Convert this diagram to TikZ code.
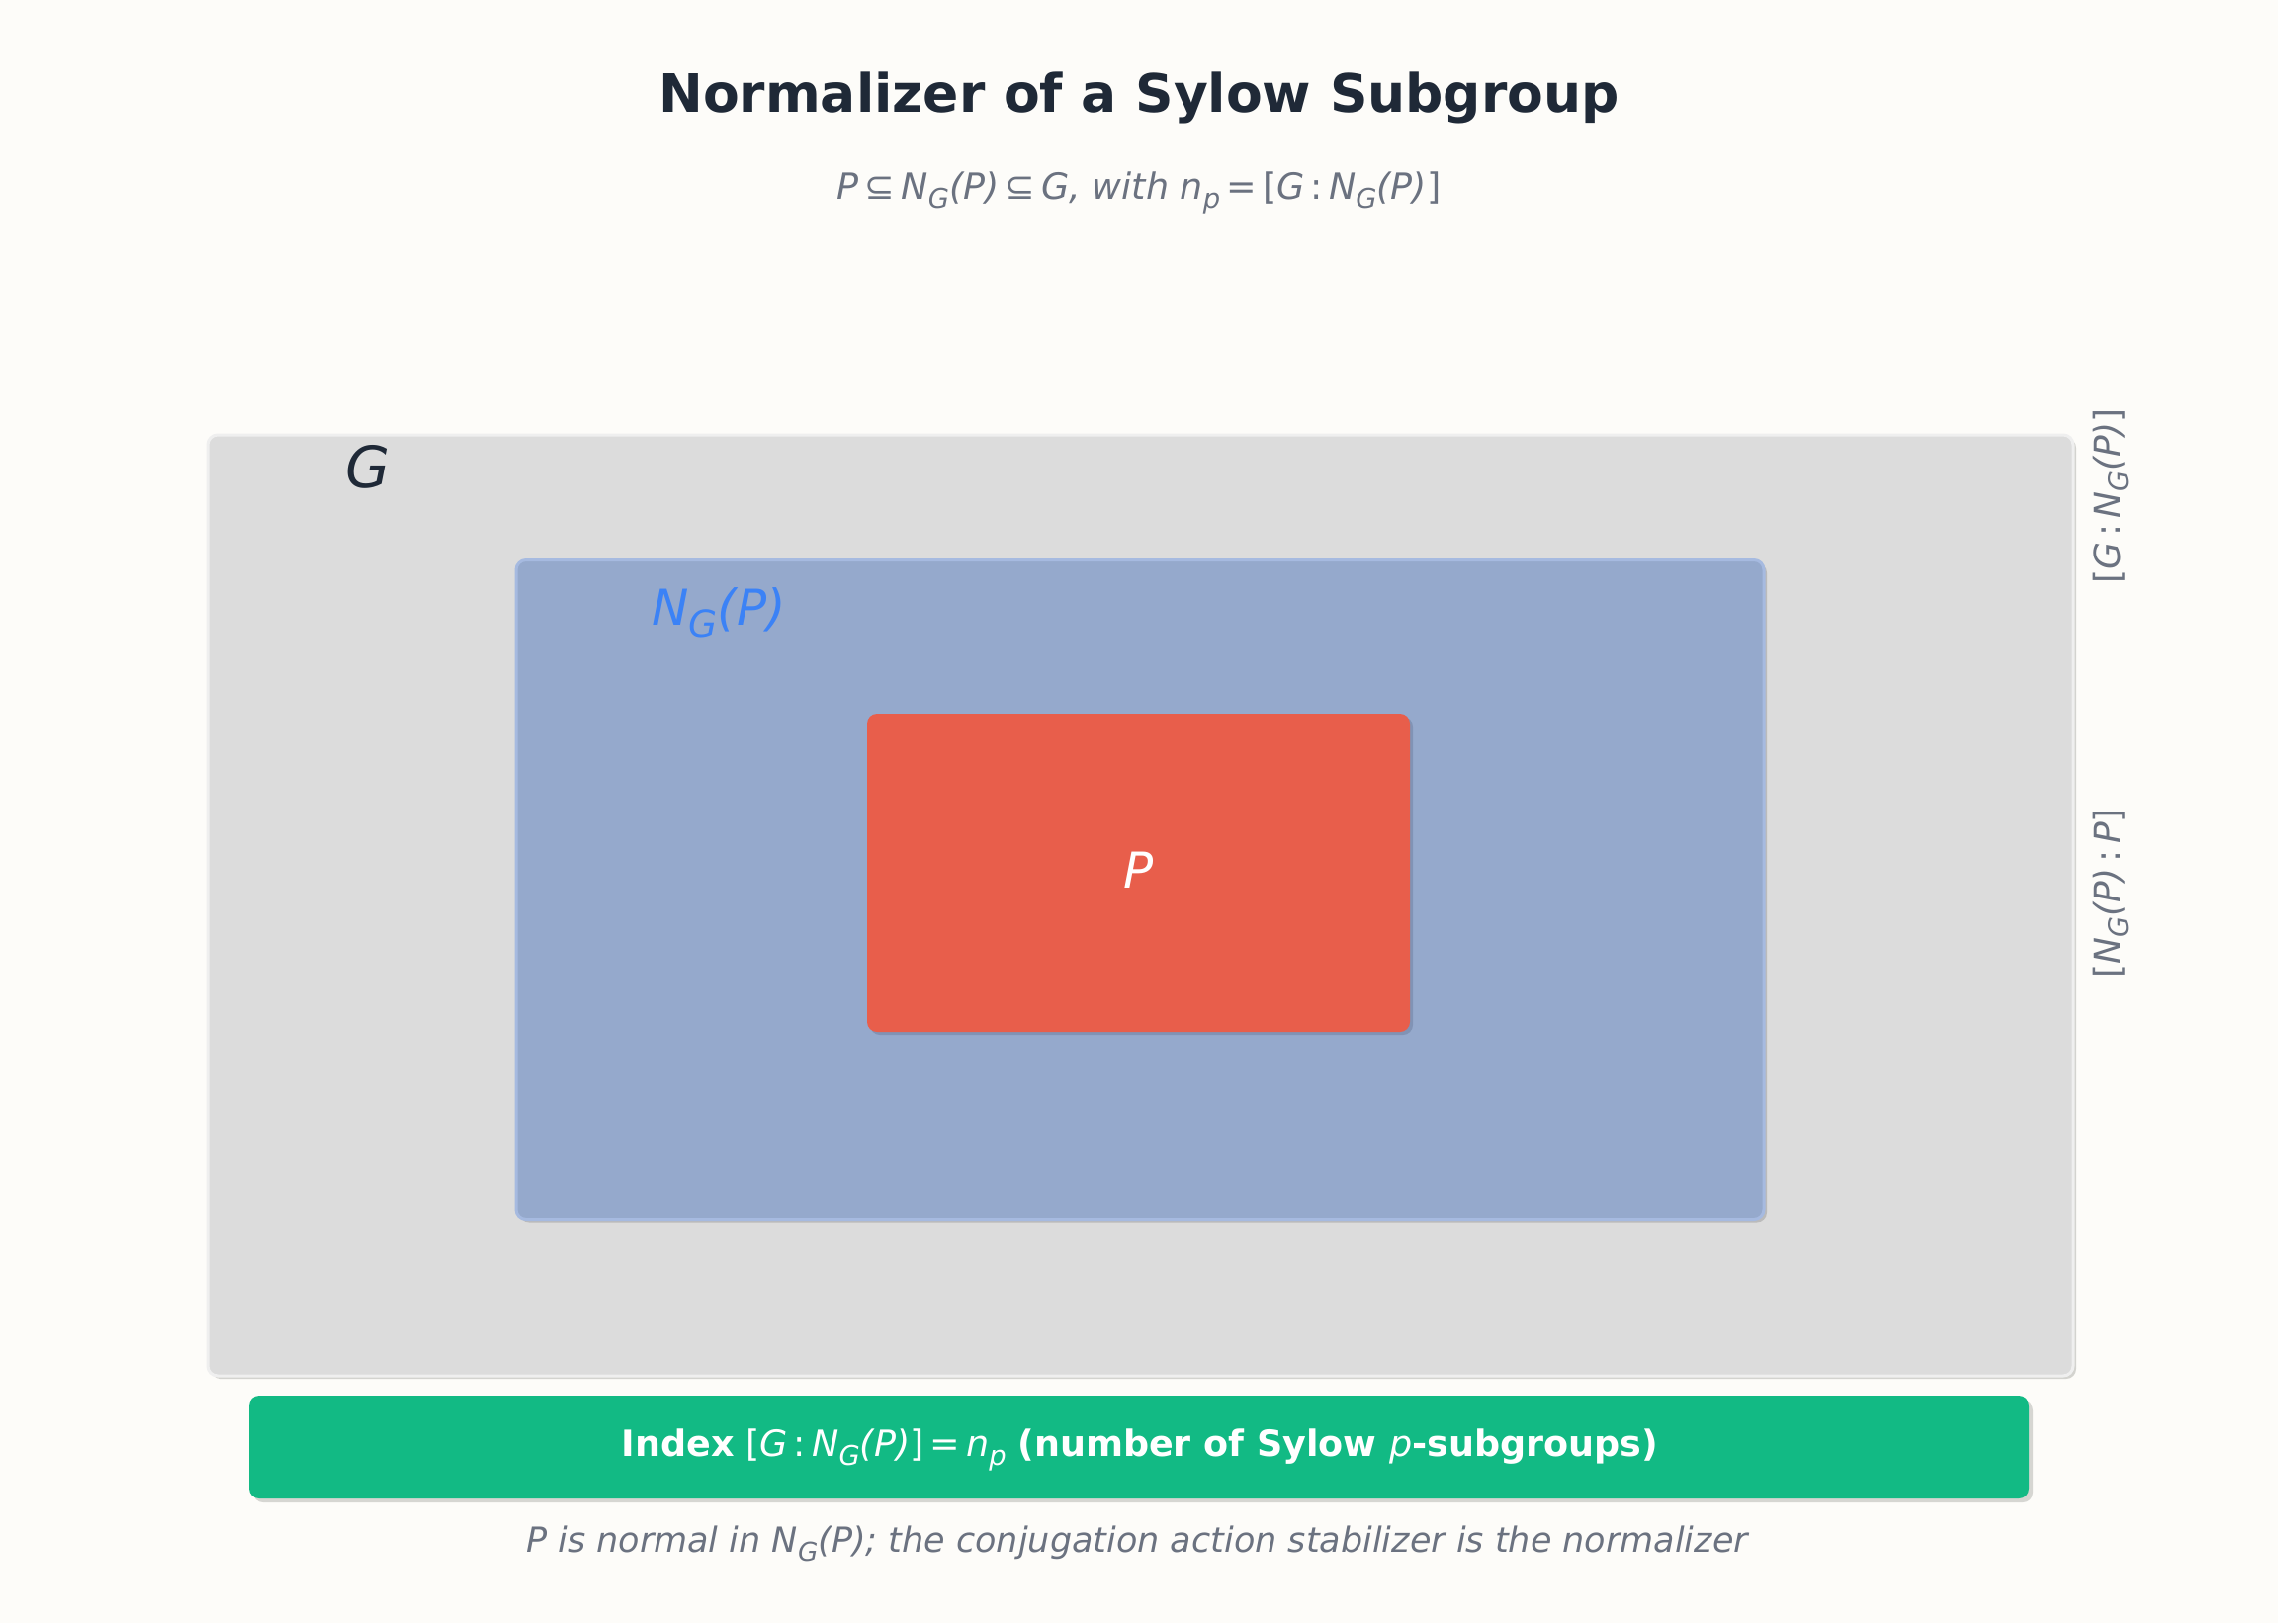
\documentclass[tikz,border=0pt]{standalone}
\usepackage{fontspec}
\setmainfont{DejaVu Sans}
\usetikzlibrary{shadows}
\definecolor{bgc}{HTML}{FDFCF9}
\definecolor{gfill}{HTML}{DCDCDC}
\definecolor{gedge}{HTML}{EFEFEF}
\definecolor{gshadow}{HTML}{D3D3CF}
\definecolor{nfill}{HTML}{95A9CC}
\definecolor{nedge}{HTML}{A6BAE0}
\definecolor{nshadow}{HTML}{BBBBBB}
\definecolor{pfill}{HTML}{E85E4B}
\definecolor{pshadow}{HTML}{8193B5}
\definecolor{grfill}{HTML}{12BA84}
\definecolor{grshadow}{HTML}{D6D6D2}
\definecolor{titlec}{HTML}{1F2937}
\definecolor{grayt}{HTML}{6B7280}
\definecolor{bluet}{HTML}{3B82F6}
\newcommand\sbs[1]{\raisebox{-0.24em}{\scalebox{0.75}{#1}}}
\newcommand\fsz[1]{\fontsize{#1}{#1}\selectfont}
\begin{document}
\begin{tikzpicture}[x=1pt,y=-1pt,
  boxbase/.style={rounded corners=10pt, inner sep=0pt, line width=3pt},
  gbox/.style={boxbase, fill=gfill, draw=gedge, drop shadow={shadow xshift=3pt, shadow yshift=-3pt, fill=gshadow, opacity=1}},
  nbox/.style={boxbase, fill=nfill, draw=nedge, drop shadow={shadow xshift=3pt, shadow yshift=-3pt, fill=nshadow, opacity=1}},
  pbox/.style={boxbase, fill=pfill, draw=none, drop shadow={shadow xshift=3pt, shadow yshift=-3pt, fill=pshadow, opacity=1}},
  grbox/.style={boxbase, fill=grfill, draw=none, drop shadow={shadow xshift=4pt, shadow yshift=-4pt, fill=grshadow, opacity=1}},
  sidelab/.style={rotate=90, text=grayt, font=\fsz{36}\itshape, inner sep=0pt}
]
\fill[bgc] (0,0) rectangle (2304,1642);
\useasboundingbox (0,0) rectangle (2304,1642);

\node[font=\fsz{53.5}\bfseries, text=titlec] (title) at (1152,99) {Normalizer of a Sylow Subgroup};
\node[font=\fsz{36.5}\itshape, text=grayt] (sub) at (1152,195)
  {P\,{\upshape ⊆}\,N\sbs{G}(P)\,{\upshape ⊆}\,G, with n\sbs{p}\,{\upshape =}\,{\upshape[}G\,{\upshape :}\,N\sbs{G}(P){\upshape]}};

\node[gbox, minimum width=1887pt, minimum height=952pt] (G) at (1153.5,916) {};
\node[font=\fsz{58}\itshape, text=titlec] (Glab) at (372,472) {G};

\node[nbox, minimum width=1262pt, minimum height=667pt] (NG) at (1153,900) {};
\node[font=\fsz{50}\itshape, text=bluet] (NGlab) at (727,620) {N\sbs{G}(P)};

\node[pbox, minimum width=549pt, minimum height=322pt] (P) at (1151.5,883) {};
\node[font=\fsz{50}\itshape, text=white] (Plab) at (1151.5,880) {P};

\node[sidelab] (idx1) at (2135,502) {{\upshape[}G\,{\upshape :}\,N\sbs{G}(P){\upshape]}};
\node[sidelab] (idx2) at (2135,904) {{\upshape[}N\sbs{G}(P)\,{\upshape :}\,P{\upshape]}};

\node[grbox, minimum width=1800pt, minimum height=104pt] (bar) at (1152,1464) {};
\node[font=\fsz{36.5}, text=white] (bartext) at (1153,1467)
  {\textbf{Index} \textit{{\upshape[}G\,{\upshape :}\,N\sbs{G}(P){\upshape]}\,{\upshape =}\,n\sbs{p}} \textbf{(number of Sylow \textit{\mdseries p}-subgroups)}};

\node[font=\fsz{35}\itshape, text=grayt] (note) at (1150,1562)
  {P is normal in N\sbs{G}(P); the conjugation action stabilizer is the normalizer};
\end{tikzpicture}
\end{document}
